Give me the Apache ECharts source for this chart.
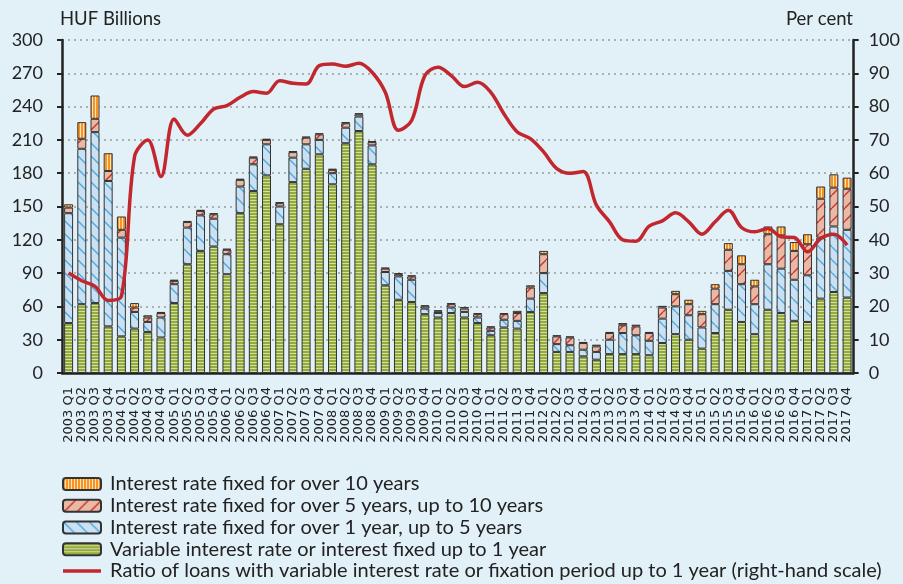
<!DOCTYPE html>
<html>
<head>
<meta charset="utf-8">
<script src="https://cdn.jsdelivr.net/npm/echarts@6/dist/echarts.min.js"></script>
<style>
  html, body { margin: 0; padding: 0; background: #e2f0f8; }
  #chart { width: 903px; height: 584px; }
</style>
</head>
<body>
<div id="chart"></div>
<script>
// quarters 2003 Q1 .. 2017 Q4
const years = [2003, 2004, 2005, 2006, 2007, 2008, 2009, 2010, 2011, 2012, 2013, 2014, 2015, 2016, 2017];
const quarters = ['Q1', 'Q2', 'Q3', 'Q4'];
const categories = [];
years.forEach(y => quarters.forEach(q => categories.push(y + ' ' + q)));

// HUF billions
const variableRate = [
  45, 62, 63, 42,   33, 40, 37, 32,   63, 98, 110, 114,  89, 144, 164, 178,
  134, 172, 184, 197, 170, 207, 218, 188, 79, 66, 64, 53,   50, 54, 50, 45,
  34, 41, 40, 55,   72, 19, 19, 15,   12, 17, 17, 17,   16, 27, 35, 30,
  22, 36, 57, 46,   35, 57, 54, 47,   46, 67, 73, 68
];
const fixed1to5 = [
  99, 140, 154, 131, 89, 15, 9, 18,   17, 33, 32, 25,   18, 24, 24, 28,
  16, 22, 22, 13,   10, 14, 13, 17,   12, 21, 20, 5,    4, 5, 5, 5,
  4, 7, 7, 12,      18, 7, 6, 6,      7, 13, 19, 17,    13, 22, 25, 22,
  19, 26, 35, 34,   27, 41, 40, 37,   42, 55, 59, 61
];
const fixed5to10 = [
  5, 9, 12, 9,      7, 4, 4, 4,       3, 5, 4, 4,       4, 6, 6, 4,
  3, 5, 6, 5,       3, 4, 2, 3,       3, 2, 3, 2,       1.5, 3, 3, 3,
  3, 5, 7, 10,      17, 7, 7, 6,      5, 6, 7, 8,       7, 10, 11, 10,
  12, 14, 19, 18,   16, 27, 30, 26,   28, 35, 35, 37
];
const fixedOver10 = [
  3, 15, 21, 16,    12, 4, 2, 1,      1, 1, 1, 1,       1, 1, 1, 1,
  1, 1, 1, 1,       1, 1, 1, 1,       1, 1, 1, 1,       1, 1, 1.5, 1,
  1, 1, 2, 2,       3, 1, 1, 1,       1.5, 1, 2, 1.5,   1, 1.5, 3, 4,
  3, 4, 6, 8,       6, 7, 8, 8,       9, 11, 12, 10
];
// per cent, right-hand scale
const variableRatio = [
  30, 27.7, 26, 21.8,   23, 65, 70, 59,       76.3, 71.4, 74.9, 79.3, 80.3, 82.8, 84.5, 84,
  87.8, 87, 86.8, 92.3, 92.8, 92.1, 93, 90.3, 84.3, 72.9, 75.8, 89.3, 91.8, 89.3, 86, 87.3,
  84.3, 77.8, 72.4, 70.4, 66.4, 61.4, 60, 60.5, 50.4, 45.4, 40, 39.6,  44.1, 45.7, 48.1, 45.4,
  41.7, 45.4, 48.9, 43.7, 42.4, 43.4, 40.9, 40.7, 36.4, 40.4, 41.7, 38.4
];

const names = [
  'Interest rate fixed for over 10 years',
  'Interest rate fixed for over 5 years, up to 10 years',
  'Interest rate fixed for over 1 year, up to 5 years',
  'Variable interest rate or interest fixed up to 1 year',
  'Ratio of loans with variable interest rate or fixation period up to 1 year (right-hand scale)'
];

// canvas fill patterns
function tile(w, h, draw) {
  const c = document.createElement('canvas');
  c.width = w; c.height = h;
  draw(c.getContext('2d'), w, h);
  return { image: c, repeat: 'repeat' };
}
const greenFill = tile(4, 3, (g, w, h) => {
  g.fillStyle = '#d3dda8'; g.fillRect(0, 0, w, h);
  g.fillStyle = '#93ab38'; g.fillRect(0, 0, w, 2);
});
const orangeFill = tile(3, 4, (g, w, h) => {
  g.fillStyle = '#fde2bf'; g.fillRect(0, 0, w, h);
  g.fillStyle = '#f7931e'; g.fillRect(0, 0, 2, h);
});
function diag(base, stroke, s, down) {
  return tile(s, s, (g, w, h) => {
    g.fillStyle = base; g.fillRect(0, 0, w, h);
    g.strokeStyle = stroke; g.lineWidth = 1.4;
    for (let k = -1; k <= 1; k++) {
      g.beginPath();
      if (down) { g.moveTo(k * s, 0); g.lineTo(k * s + s, s); }
      else { g.moveTo(k * s, s); g.lineTo(k * s + s, 0); }
      g.stroke();
    }
  });
}
const blueFill = diag('#c9e1f3', '#4fa9dc', 13, true);
const pinkFill = diag('#e9b9a5', '#c8342f', 13, false);

// thin horizontal bar for the line's legend key (tiny corner dots keep a 38x12 box)
const lineIcon = 'path://M0,0L0.01,0L0,0.01Z M38,12L37.99,12L38,11.99Z M0,4.3L38,4.3L38,7.7L0,7.7Z';

const chart = echarts.init(document.getElementById('chart'));
const font = 'Lato, sans-serif';

function bar(name, data, fill) {
  return {
    name, type: 'bar', stack: 'loans', data, barWidth: '68%',
    itemStyle: { color: fill, borderColor: '#333', borderWidth: 1 }
  };
}

chart.setOption({
  backgroundColor: '#e2f0f8',
  animation: false,
  textStyle: { fontFamily: font },
  grid: { left: 62, right: 49, top: 40, bottom: 211 },
  graphic: [
    { type: 'text', left: 60, top: 10, style: { text: 'HUF Billions', font: '18.5px Lato, sans-serif', fill: '#222' } },
    { type: 'text', right: 50, top: 10, style: { text: 'Per cent', font: '18.5px Lato, sans-serif', fill: '#222' } }
  ],
  legend: {
    orient: 'vertical', left: 62, top: 474, height: 140, padding: 0,
    itemWidth: 38, itemHeight: 12, itemGap: 1.75,
    textStyle: { fontFamily: font, fontSize: 20, color: '#222', lineHeight: 19, padding: [0, 0, 0, 4] },
    data: [
      names[0], names[1], names[2], names[3],
      { name: names[4], icon: lineIcon, itemStyle: { color: '#c1272d', borderWidth: 0 } }
    ]
  },
  xAxis: {
    type: 'category', data: categories,
    axisLine: { lineStyle: { color: '#222', width: 2.5 } },
    axisTick: { length: 5, lineStyle: { color: '#222', width: 2 } },
    axisLabel: { rotate: 90, interval: 0, margin: 14, fontFamily: 'DejaVu Sans', fontSize: 13, color: '#222' }
  },
  yAxis: [
    {
      type: 'value', min: 0, max: 300, interval: 30,
      axisLine: { show: true, lineStyle: { color: '#222', width: 2.5 } },
      axisTick: { show: true, length: 5, lineStyle: { color: '#222', width: 2 } },
      axisLabel: { margin: 19, fontFamily: font, fontSize: 18, color: '#222' },
      splitLine: { lineStyle: { color: '#9a9a9a', width: 1.5, type: [2, 4] } }
    },
    {
      type: 'value', min: 0, max: 100, interval: 10,
      axisLine: { show: true, lineStyle: { color: '#222', width: 2.5 } },
      axisTick: { show: true, length: 5, lineStyle: { color: '#222', width: 2 } },
      axisLabel: { margin: 15, fontFamily: font, fontSize: 18, color: '#222' },
      splitLine: { show: false }
    }
  ],
  series: [
    bar(names[3], variableRate, greenFill),
    bar(names[2], fixed1to5, blueFill),
    bar(names[1], fixed5to10, pinkFill),
    bar(names[0], fixedOver10, orangeFill),
    {
      name: names[4], type: 'line', yAxisIndex: 1, data: variableRatio,
      smooth: 0.35, symbol: 'none', z: 5,
      lineStyle: { color: '#c1272d', width: 3.5 },
      itemStyle: { color: '#c1272d' }
    }
  ]
});
</script>
</body>
</html>
